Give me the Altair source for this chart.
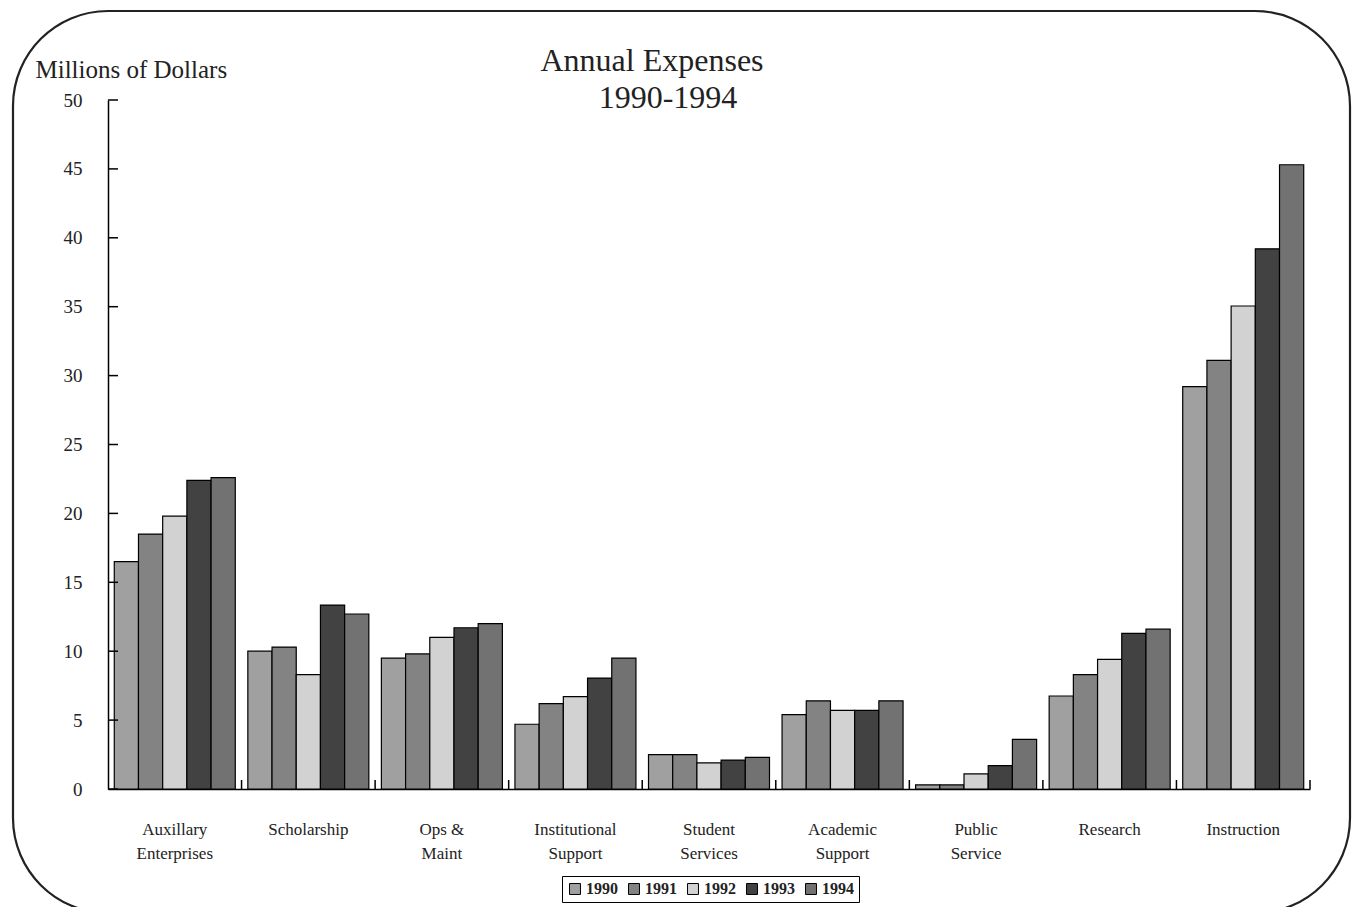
import altair as alt
import pandas as pd

categories = ["Auxillary\nEnterprises", "Scholarship", "Ops &\nMaint", "Institutional\nSupport",
              "Student\nServices", "Academic\nSupport", "Public\nService", "Research", "Instruction"]
years = ["1990", "1991", "1992", "1993", "1994"]
v1990 = [16.5, 10.0, 9.5, 4.7, 2.5, 5.4, 0.3, 6.75, 29.2]
v1991 = [18.5, 10.3, 9.8, 6.2, 2.5, 6.4, 0.3, 8.3, 31.1]
v1992 = [19.8, 8.3, 11.0, 6.7, 1.9, 5.7, 1.1, 9.4, 35.05]
v1993 = [22.4, 13.35, 11.7, 8.05, 2.1, 5.7, 1.7, 11.3, 39.2]
v1994 = [22.6, 12.7, 12.0, 9.5, 2.3, 6.4, 3.6, 11.6, 45.3]
y_ticks = [0, 5, 10, 15, 20, 25, 30, 35, 40, 45, 50]
title_line1 = "Annual Expenses"
title_line2 = "1990-1994"
y_title = "Millions of Dollars"
grays = ["#a0a0a0", "#838383", "#d2d2d2", "#424242", "#727272"]

series = [v1990, v1991, v1992, v1993, v1994]
rows = []
for yr, vals in zip(years, series):
    for c, v in zip(categories, vals):
        rows.append({"category": c, "year": yr, "value": v})
df = pd.DataFrame(rows)

W, H = 1202, 689
FONT = "Liberation Serif"

y_scale = alt.Scale(domain=[0, 50], nice=False)
y_axis = alt.Axis(values=y_ticks, ticks=False, grid=False,
                  domainColor="black", domainWidth=1.5,
                  labelFont=FONT, labelFontSize=19, labelColor="#222",
                  labelPadding=26,
                  title=y_title, titleAngle=0, titleAlign="left",
                  titleBaseline="alphabetic", titleX=-73, titleY=-23,
                  titleFont=FONT, titleFontSize=25, titleFontWeight="normal",
                  titleColor="#222")

bars = alt.Chart(df).mark_bar(stroke="black", strokeWidth=1.2).encode(
    x=alt.X("category:N", sort=categories,
            scale=alt.Scale(paddingInner=0.094, paddingOuter=0.047),
            axis=alt.Axis(title=None, labelAngle=0, ticks=False, domain=True,
                          domainColor="black", domainWidth=1.5,
                          labelFont=FONT, labelFontSize=17, labelColor="#222",
                          labelPadding=32, labelLineHeight=24,
                          labelExpr="split(datum.label, '\\n')")),
    xOffset=alt.XOffset("year:N", sort=years),
    y=alt.Y("value:Q", scale=y_scale, axis=y_axis),
    color=alt.Color("year:N", sort=years,
                    scale=alt.Scale(domain=years, range=grays),
                    legend=alt.Legend(title=None, orient="none", direction="horizontal",
                                      legendX=454, legendY=776,
                                      symbolType="square", symbolSize=120,
                                      symbolStrokeColor="black", symbolStrokeWidth=1,
                                      labelFont=FONT, labelFontSize=16, labelFontWeight="bold",
                                      labelColor="#222", columnPadding=8, labelOffset=3,
                                      padding=5, strokeColor="black", fillColor="white")),
)

tick_df = pd.DataFrame({"value": y_ticks})
yticks = alt.Chart(tick_df).mark_rule(color="black", strokeWidth=1.5).encode(
    y=alt.Y("value:Q", scale=y_scale, axis=y_axis),
    x=alt.value(0), x2=alt.value(10),
)

bound_df = pd.DataFrame({"b": list(range(1, len(categories) + 1))})
xticks = alt.Chart(bound_df).mark_rule(color="black", strokeWidth=1.5).encode(
    x=alt.X("b:Q", scale=alt.Scale(domain=[0, len(categories)], nice=False, zero=True), axis=None),
    y=alt.value(H - 9), y2=alt.value(H),
)

one = pd.DataFrame({"a": [0]})
border = alt.Chart(one).mark_rect(fill=None, stroke="#222", strokeWidth=2.2, cornerRadius=95).encode(
    x=alt.value(13 - 108), x2=alt.value(1350 - 108),
    y=alt.value(11 - 100), y2=alt.value(913 - 100),
)
t1 = alt.Chart(one).mark_text(font=FONT, fontSize=32, color="#222", baseline="alphabetic",
                              align="center").encode(
    x=alt.value(652 - 108), y=alt.value(71 - 100), text=alt.value(title_line1))
t2 = alt.Chart(one).mark_text(font=FONT, fontSize=32, color="#222", baseline="alphabetic",
                              align="center").encode(
    x=alt.value(668 - 108), y=alt.value(108 - 100), text=alt.value(title_line2))

chart = alt.layer(bars, yticks, xticks, border, t1, t2).resolve_scale(x="independent").properties(
    width=W, height=H,
    background="white",
    autosize=alt.AutoSizeParams(type="none"),
    padding={"left": 100, "top": 92, "right": 43, "bottom": 118},
).configure_view(strokeWidth=0, stroke=None)

chart.save("out.html", embed_options={"renderer": "svg", "actions": False})
